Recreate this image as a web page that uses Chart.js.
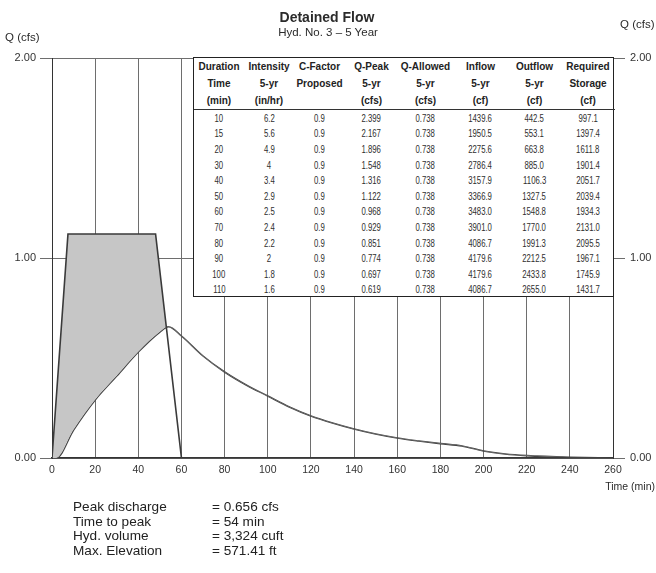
<!DOCTYPE html>
<html lang="en">
<head>
<meta charset="utf-8">
<title>Detained Flow</title>
<script src="https://cdn.jsdelivr.net/npm/chart.js@4.4.0/dist/chart.umd.min.js"></script>
<style>
  html, body { margin: 0; padding: 0; background: #fff; }
  #page {
    position: relative; width: 656px; height: 573px; overflow: hidden;
    font-family: "Liberation Sans", Arial, sans-serif; color: #2b2b2b;
  }
  #flowChart { position: absolute; left: 0; top: 0; }
  .lbl { position: absolute; white-space: nowrap; line-height: 1; }
  .title { left: 227px; width: 200px; top: 10px; text-align: center; font-size: 14px; font-weight: bold; }
  .subtitle { left: 228px; width: 200px; top: 27px; text-align: center; font-size: 11.5px; }
  .qleft { left: 5px; top: 32px; font-size: 11.5px; }
  .qright { left: 620px; top: 19px; font-size: 11.5px; }
  .tlabel { right: 1px; top: 481px; font-size: 10.5px; }

  /* table pasted over the chart */
  #tbl {
    position: absolute; left: 193px; top: 57px; width: 421px; height: 240px;
    box-sizing: border-box; border: 1.5px solid #222; background: #fff;
  }
  #tbl table { width: 100%; border-collapse: collapse; table-layout: fixed; }
  #tbl td { padding: 0; text-align: center; white-space: nowrap; overflow: visible; }
  #tbl tr.head td { height: 17px; font-size: 10px; font-weight: bold; color: #222; }
  #tbl tr.head.last td { border-bottom: 1px solid #333; }
  #tbl tr.row td { height: 15.6px; font-size: 10.5px; color: #2e2e2e; }
  #tbl tr.row td span { display: inline-block; transform: scaleX(0.74); }

  /* summary lines under the chart */
  #stats { position: absolute; left: 73px; top: 500px; font-size: 13.6px; line-height: 14.5px; color: #222; }
  #stats .k { display: inline-block; width: 139px; }
</style>
</head>
<body>
<div id="page">
  <canvas id="flowChart" width="656" height="573"></canvas>
  <div class="lbl title">Detained Flow</div>
  <div class="lbl subtitle">Hyd. No. 3 – 5 Year</div>
  <div class="lbl qleft">Q (cfs)</div>
  <div class="lbl qright">Q (cfs)</div>
  <div class="lbl tlabel">Time (min)</div>
  <div id="tbl"></div>
  <div id="stats"></div>
</div>

<script>
// ============================================
// Detained Flow — Hyd. No. 3, 5 Year
// ============================================

// Inflow hydrograph (straight segments)
const inflowTime = [0, 7.4, 48, 60, 260];
const inflowCfs  = [0, 1.12, 1.12, 0, 0];

// Outflow hydrograph
const outflowTime = [0, 2, 10, 20, 30, 40, 50, 54, 60, 70, 80, 90, 100, 110, 120, 130, 140, 150, 160, 170, 180, 190, 200, 210, 220, 240, 260];
const outflowCfs  = [0, 0, 0.14, 0.29, 0.41, 0.53, 0.63, 0.656, 0.61, 0.51, 0.43, 0.365, 0.31, 0.255, 0.21, 0.175, 0.145, 0.12, 0.10, 0.085, 0.072, 0.06, 0.035, 0.02, 0.012, 0.004, 0];

// Axis ticks
const xTicks = [0, 20, 40, 60, 80, 100, 120, 140, 160, 180, 200, 220, 240, 260];
const yTicks = [0, 1, 2];

// Table columns
const tableHead = [
  ['Duration', 'Intensity', 'C-Factor', 'Q-Peak', 'Q-Allowed', 'Inflow', 'Outflow', 'Required'],
  ['Time', '5-yr', 'Proposed', '5-yr', '5-yr', '5-yr', '5-yr', 'Storage'],
  ['(min)', '(in/hr)', '', '(cfs)', '(cfs)', '(cf)', '(cf)', '(cf)']
];
const colWidths   = [50, 50, 51, 53, 55, 55, 53, 54];
const durationMin = [10, 15, 20, 30, 40, 50, 60, 70, 80, 90, 100, 110];
const intensity   = [6.2, 5.6, 4.9, 4, 3.4, 2.9, 2.5, 2.4, 2.2, 2, 1.8, 1.6];
const cFactor     = [0.9, 0.9, 0.9, 0.9, 0.9, 0.9, 0.9, 0.9, 0.9, 0.9, 0.9, 0.9];
const qPeak       = [2.399, 2.167, 1.896, 1.548, 1.316, 1.122, 0.968, 0.929, 0.851, 0.774, 0.697, 0.619];
const qAllowed    = [0.738, 0.738, 0.738, 0.738, 0.738, 0.738, 0.738, 0.738, 0.738, 0.738, 0.738, 0.738];
const inflowVol   = [1439.6, 1950.5, 2275.6, 2786.4, 3157.9, 3366.9, 3483.0, 3901.0, 4086.7, 4179.6, 4179.6, 4086.7];
const outflowVol  = [442.5, 553.1, 663.8, 885.0, 1106.3, 1327.5, 1548.8, 1770.0, 1991.3, 2212.5, 2433.8, 2655.0];
const storageReq  = [997.1, 1397.4, 1611.8, 1901.4, 2051.7, 2039.4, 1934.3, 2131.0, 2095.5, 1967.1, 1745.9, 1431.7];

// Summary
const statNames  = ['Peak discharge', 'Time to peak', 'Hyd. volume', 'Max. Elevation'];
const statValues = ['= 0.656 cfs', '= 54 min', '= 3,324 cuft', '= 571.41 ft'];

function renderTable() {
  const box = document.getElementById('tbl');
  let html = '<table><colgroup>' + colWidths.map(w => `<col style="width:${w}px">`).join('') + '</colgroup>';
  tableHead.forEach((row, r) => {
    html += `<tr class="head${r === tableHead.length - 1 ? ' last' : ''}">` + row.map(t => `<td>${t}</td>`).join('') + '</tr>';
  });
  durationMin.forEach((d, i) => {
    const cells = [
      d, intensity[i], cFactor[i], qPeak[i].toFixed(3), qAllowed[i].toFixed(3),
      inflowVol[i].toFixed(1), outflowVol[i].toFixed(1), storageReq[i].toFixed(1)
    ];
    html += '<tr class="row">' + cells.map(c => `<td><span>${c}</span></td>`).join('') + '</tr>';
  });
  html += '</table>';
  box.innerHTML = html;
}

function renderStats() {
  document.getElementById('stats').innerHTML = statNames
    .map((n, i) => `<div><span class="k">${n}</span>${statValues[i]}</div>`)
    .join('');
}

function renderChart() {
  const canvas = document.getElementById('flowChart');
  if (!canvas || typeof Chart === 'undefined') return;

  Chart.defaults.font.family = '"Liberation Sans", Arial, sans-serif';

  const gridColor = '#6e6e6e';
  const textColor = '#333';
  const inflowPts = inflowTime.map((t, i) => ({ x: t, y: inflowCfs[i] }));
  const outflowPts = outflowTime.map((t, i) => ({ x: t, y: outflowCfs[i] }));
  const yLabel = v => Number(v).toFixed(2);

  new Chart(canvas.getContext('2d'), {
    type: 'line',
    data: {
      datasets: [
        {
          label: 'Inflow',
          data: inflowPts,
          borderColor: '#3a3a3a',
          borderWidth: 1.6,
          pointRadius: 0,
          tension: 0,
          fill: { target: 1, above: '#c6c6c6', below: 'rgba(0,0,0,0)' }
        },
        {
          label: 'Outflow',
          data: outflowPts,
          borderColor: '#444',
          borderWidth: 1.6,
          pointRadius: 0,
          cubicInterpolationMode: 'monotone',
          fill: false
        }
      ]
    },
    options: {
      responsive: false,
      animation: false,
      devicePixelRatio: 1,
      layout: { padding: { left: 0, right: 0, top: 58, bottom: 85 } },
      plugins: {
        legend: { display: false },
        tooltip: { enabled: false }
      },
      scales: {
        x: {
          type: 'linear',
          min: xTicks[0],
          max: xTicks[xTicks.length - 1],
          afterBuildTicks: s => { s.ticks = xTicks.map(v => ({ value: v })); },
          ticks: { color: textColor, font: { size: 10.5 }, padding: 6, maxRotation: 0 },
          grid: { color: gridColor, lineWidth: 1, drawTicks: false },
          border: { color: '#333', width: 1.5 },
          afterFit: s => { s.height = 30; }
        },
        y: {
          position: 'left',
          min: 0,
          max: 2,
          afterBuildTicks: s => { s.ticks = yTicks.map(v => ({ value: v })); },
          ticks: { color: textColor, font: { size: 11 }, padding: 4, callback: yLabel },
          grid: { color: gridColor, lineWidth: 1, tickLength: 12 },
          border: { color: '#333', width: 1 },
          afterFit: s => { s.width = 52; }
        },
        y2: {
          position: 'right',
          min: 0,
          max: 2,
          afterBuildTicks: s => { s.ticks = yTicks.map(v => ({ value: v })); },
          ticks: { color: textColor, font: { size: 11 }, padding: 5, callback: yLabel },
          grid: { color: gridColor, lineWidth: 1, tickLength: 12, drawOnChartArea: false },
          border: { color: '#333', width: 1 },
          afterFit: s => { s.width = 43; }
        }
      }
    }
  });
}

renderChart();
renderTable();
renderStats();
</script>
</body>
</html>
